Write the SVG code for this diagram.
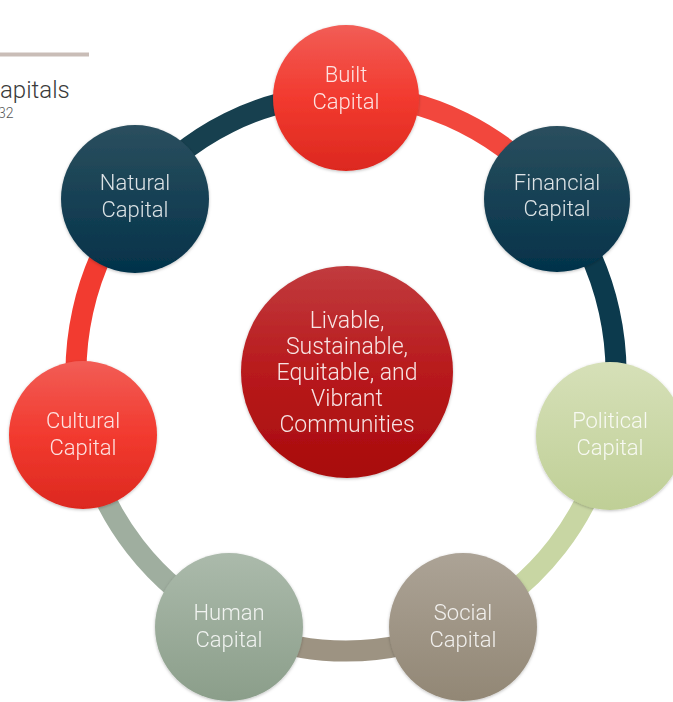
<svg xmlns="http://www.w3.org/2000/svg" width="673" height="702" viewBox="0 0 673 702">
<defs>
<linearGradient id="gRed" x1="0" y1="0" x2="0" y2="1"><stop offset="0" stop-color="#f25d56"/><stop offset="0.5" stop-color="#f23a2f"/><stop offset="1" stop-color="#dc281f"/></linearGradient>
<linearGradient id="gTeal" x1="0" y1="0" x2="0" y2="1"><stop offset="0" stop-color="#2b4f5e"/><stop offset="1" stop-color="#03324a"/></linearGradient>
<linearGradient id="gGreen" x1="0" y1="0" x2="0" y2="1"><stop offset="0" stop-color="#d6e0b8"/><stop offset="1" stop-color="#bfcf96"/></linearGradient>
<linearGradient id="gTaupe" x1="0" y1="0" x2="0" y2="1"><stop offset="0" stop-color="#aca396"/><stop offset="1" stop-color="#928775"/></linearGradient>
<linearGradient id="gSage" x1="0" y1="0" x2="0" y2="1"><stop offset="0" stop-color="#abbaab"/><stop offset="1" stop-color="#8b9e8a"/></linearGradient>
<linearGradient id="gCenter" x1="0" y1="0" x2="0" y2="1"><stop offset="0" stop-color="#c13b3e"/><stop offset="0.5" stop-color="#b81a1c"/><stop offset="1" stop-color="#a80b0c"/></linearGradient>
<filter id="sh" x="-10%" y="-10%" width="120%" height="125%"><feDropShadow dx="0" dy="1" stdDeviation="1.5" flood-color="#000" flood-opacity="0.25"/></filter>
</defs>
<style>
.arc{fill:none;stroke-width:21;}
.lbl{font-family:Roboto,"Liberation Sans",sans-serif;font-weight:300;font-size:22px;fill:#ffffff;fill-opacity:0.85;text-anchor:middle;}
.clbl{font-family:Roboto,"Liberation Sans",sans-serif;font-weight:300;font-size:23px;fill:#ffffff;fill-opacity:0.88;text-anchor:middle;}
.node{filter:url(#sh);}
</style>
<rect x="0" y="0" width="673" height="702" fill="#ffffff"/>
<g id="header">
<rect x="0" y="52.5" width="89" height="4" fill="#c9bdb7"/>
<text x="0" y="98" font-family="Roboto,'Liberation Sans',sans-serif" font-weight="300" font-size="24" fill="#3a3a3a">apitals</text>
<text x="-2" y="118" font-family="Roboto,'Liberation Sans',sans-serif" font-weight="300" font-size="14" fill="#555555">32</text>
</g>
<g id="connectors">
<path class="arc" stroke="#f2473d" d="M346,95 A270,278 0 0 1 557.1,199.7"/>
<path class="arc" stroke="#0c3a4d" d="M557.1,199.7 A270,278 0 0 1 609.2,434.9"/>
<path class="arc" stroke="#c8d6a3" d="M609.2,434.9 A270,278 0 0 1 463.2,623.5"/>
<path class="arc" stroke="#9d9382" d="M463.2,623.5 A270,278 0 0 1 228.8,623.5"/>
<path class="arc" stroke="#9fae9f" d="M228.8,623.5 A270,278 0 0 1 82.8,434.9"/>
<path class="arc" stroke="#f23b30" d="M82.8,434.9 A270,278 0 0 1 134.9,199.7"/>
<path class="arc" stroke="#17404f" d="M134.9,199.7 A270,278 0 0 1 346,95"/>
</g>
<g id="built" class="node"><circle cx="346" cy="98" r="73" fill="url(#gRed)"/><text class="lbl" x="346" y="82">Built</text><text class="lbl" x="346" y="109">Capital</text></g>
<g id="financial" class="node"><circle cx="557" cy="199" r="73" fill="url(#gTeal)"/><text class="lbl" x="557" y="190">Financial</text><text class="lbl" x="557" y="216">Capital</text></g>
<g id="political" class="node"><circle cx="610" cy="436" r="74" fill="url(#gGreen)"/><text class="lbl" x="610" y="428">Political</text><text class="lbl" x="610" y="455">Capital</text></g>
<g id="social" class="node"><circle cx="463" cy="627" r="74" fill="url(#gTaupe)"/><text class="lbl" x="463" y="620">Social</text><text class="lbl" x="463" y="647">Capital</text></g>
<g id="human" class="node"><circle cx="229" cy="627" r="74" fill="url(#gSage)"/><text class="lbl" x="229" y="620">Human</text><text class="lbl" x="229" y="647">Capital</text></g>
<g id="cultural" class="node"><circle cx="83" cy="435" r="74" fill="url(#gRed)"/><text class="lbl" x="83" y="428">Cultural</text><text class="lbl" x="83" y="455">Capital</text></g>
<g id="natural" class="node"><circle cx="135" cy="199" r="74" fill="url(#gTeal)"/><text class="lbl" x="135" y="190">Natural</text><text class="lbl" x="135" y="217">Capital</text></g>
<g id="center" class="node"><circle cx="347" cy="372" r="106" fill="url(#gCenter)"/>
<text class="clbl" x="347" y="328">Livable,</text>
<text class="clbl" x="347" y="354">Sustainable,</text>
<text class="clbl" x="347" y="380">Equitable, and</text>
<text class="clbl" x="347" y="406">Vibrant</text>
<text class="clbl" x="347" y="432">Communities</text>
</g>
</svg>
